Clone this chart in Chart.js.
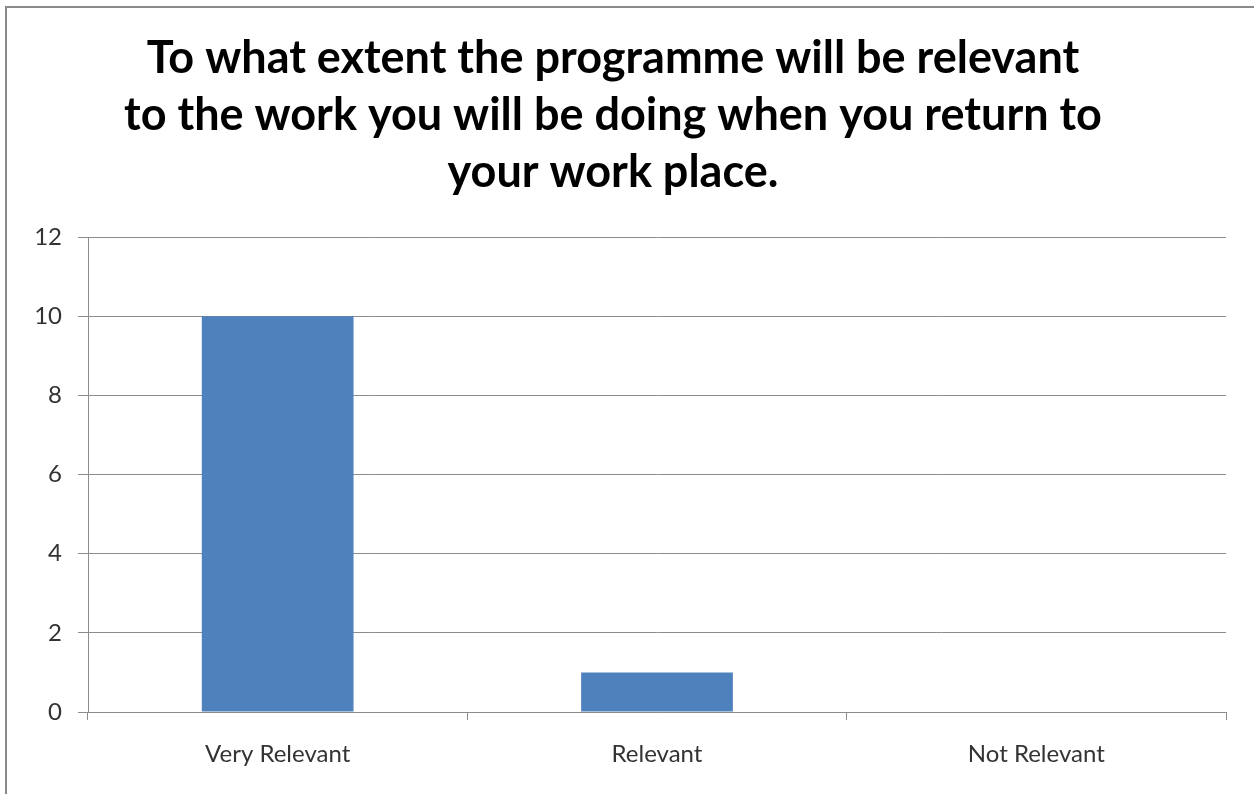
<!DOCTYPE html>
<html>
<head>
<meta charset="utf-8">
<script src="https://cdn.jsdelivr.net/npm/chart.js@4.4.1/dist/chart.umd.min.js"></script>
<style>
  html, body { margin: 0; padding: 0; background: #ffffff; }
  #wrap { position: relative; width: 1254px; height: 794px; }
</style>
</head>
<body>
<div id="wrap"><canvas id="chart" width="1254" height="794"></canvas></div>
<script>
// Survey responses
const categories = ['Very Relevant', 'Relevant', 'Not Relevant'];
const responses = [10, 1, 0];
const titleLines = [
  'To what extent the programme will be relevant',
  'to the work you will be doing when you return to',
  'your work place.'
];
const yTicks = { min: 0, max: 12, step: 2 };

const FONT = 'Lato, "Open Sans", sans-serif';
const GRID = '#8c8c8c';

// Thin gray frame around the whole chart object
const framePlugin = {
  id: 'frame',
  afterDraw(chart) {
    const ctx = chart.ctx;
    ctx.save();
    ctx.strokeStyle = '#8a8a8a';
    ctx.lineWidth = 2;
    ctx.strokeRect(6, 7, chart.width + 20, chart.height + 20);
    ctx.restore();
  }
};

new Chart(document.getElementById('chart'), {
  type: 'bar',
  data: {
    labels: categories,
    datasets: [{
      data: responses,
      backgroundColor: '#4f81bd',
      borderWidth: 0,
      categoryPercentage: 1.0,
      barPercentage: 0.4
    }]
  },
  options: {
    responsive: false,
    animation: false,
    layout: { padding: { top: 30, right: 28, left: 0, bottom: 0 } },
    plugins: {
      legend: { display: false },
      tooltip: { enabled: false },
      title: {
        display: true,
        text: titleLines,
        color: '#000000',
        font: { family: FONT, size: 45, weight: 'bold', lineHeight: 57 / 45 },
        padding: { top: 0, bottom: 36 }
      }
    },
    scales: {
      x: {
        grid: {
          offset: true,
          drawOnChartArea: false,
          drawTicks: true,
          tickLength: 8,
          color: GRID
        },
        border: { color: GRID, width: 1 },
        ticks: {
          color: '#333333',
          font: { family: FONT, size: 24 },
          padding: 20
        },
        afterFit(scale) { scale.height = 794 - 712; }
      },
      y: {
        min: yTicks.min,
        max: yTicks.max,
        ticks: {
          stepSize: yTicks.step,
          color: '#333333',
          font: { family: FONT, size: 24 },
          padding: 16
        },
        grid: {
          color: GRID,
          tickLength: 10
        },
        border: { color: GRID, width: 1 },
        afterFit(scale) { scale.width = 88; }
      }
    }
  },
  plugins: [framePlugin]
});
</script>
</body>
</html>
